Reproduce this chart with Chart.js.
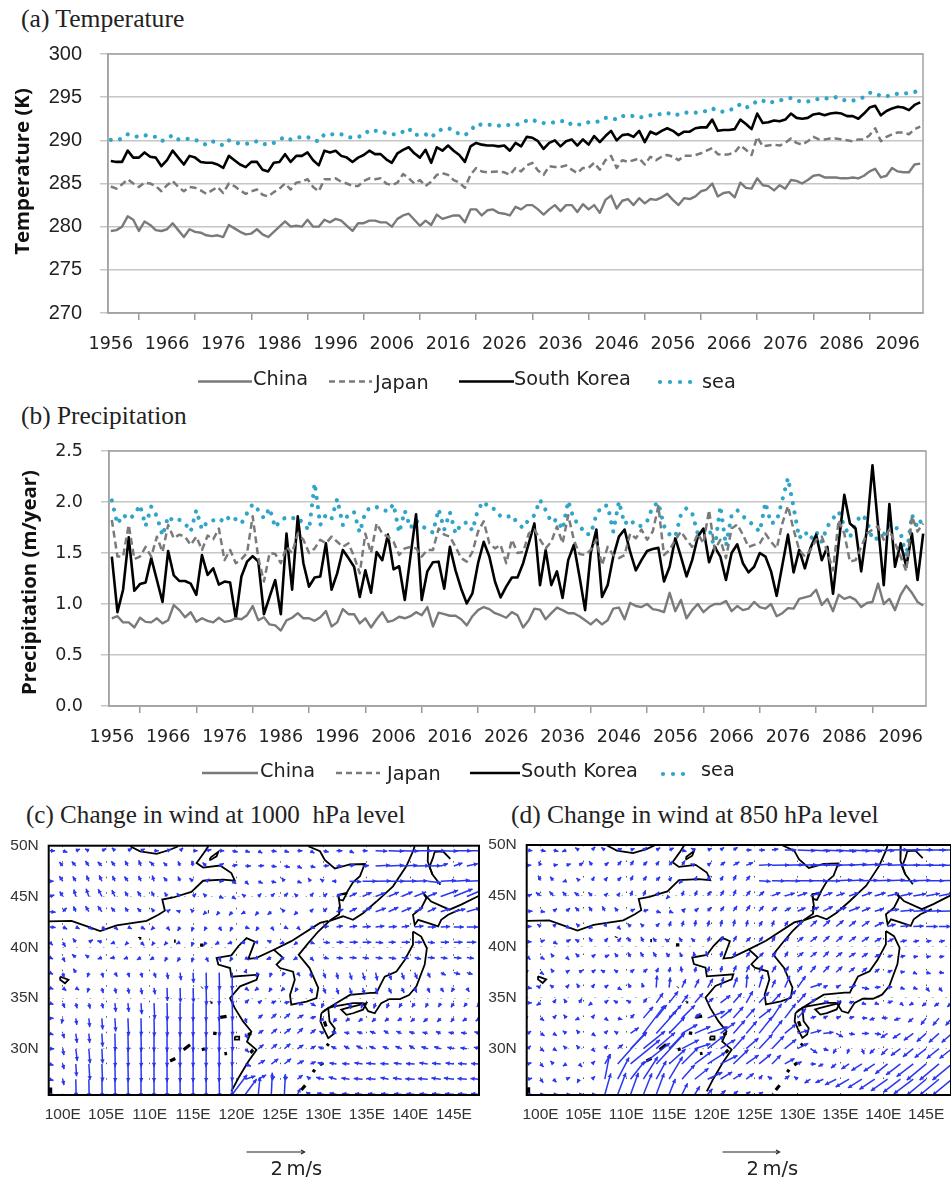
<!DOCTYPE html>
<html>
<head>
<meta charset="utf-8">
<title>Temperature, precipitation and wind change</title>
<script src="https://cdn.jsdelivr.net/npm/chart.js@4/dist/chart.umd.min.js"></script>
<style>
    body { margin: 0; background: #fff; }
    #page { position: relative; width: 951px; height: 1187px; overflow: hidden; }
    canvas { position: absolute; filter: blur(0.4px); }
    .panel-title { position: absolute; font-family: "Liberation Serif", serif; line-height: 28px; color: #222; white-space: pre; }
</style>
</head>
<body>
<div id="page">
    <div class="panel-title" style="left:21px;top:5px;font-size:25.6px">(a) Temperature</div>
    <div class="panel-title" style="left:21px;top:401px;font-size:25.4px">(b) Precipitation</div>
    <div class="panel-title" style="left:26px;top:801px;font-size:25.1px">(c) Change in wind at 1000  hPa level</div>
    <div class="panel-title" style="left:511px;top:801px;font-size:25.5px">(d) Change in wind at 850 hPa level</div>
    <canvas id="temp-chart" width="951" height="360" style="left:0;top:40px"></canvas>
    <canvas id="precip-chart" width="951" height="370" style="left:0;top:430px"></canvas>
    <canvas id="wind-c" width="484" height="352" style="left:0;top:835px"></canvas>
    <canvas id="wind-d" width="467" height="352" style="left:484px;top:835px"></canvas>
</div>
<script>
// year labels, 1956-2100
const years = [];
for (let y = 1956; y <= 2100; y++) years.push(String(y));

// (a) temperature, K
const tempChina = [
    279.5,279.6,280.0,281.2,280.8,279.5,280.6,280.2,279.6,279.5,
    279.7,280.4,279.6,278.8,279.7,279.4,279.3,279.0,278.9,279.0,
    278.8,280.2,279.8,279.4,279.1,279.2,279.7,279.1,278.8,279.4,
    280.0,280.6,280.0,280.1,280.0,280.8,280.0,280.0,280.8,280.5,
    280.9,280.7,280.1,279.5,280.4,280.4,280.7,280.7,280.5,280.5,
    280.0,280.9,281.3,281.5,280.8,280.1,280.7,280.2,281.4,280.9,
    281.1,281.3,281.3,280.5,282.0,282.0,281.3,281.9,282.0,281.6,
    281.5,281.3,282.3,282.0,282.5,282.5,282.0,281.4,282.0,282.5,
    281.8,282.5,282.5,281.7,282.6,282.0,282.5,281.6,283.1,283.6,
    282.1,283.0,283.2,282.5,283.3,282.7,283.2,283.1,283.4,283.8,
    283.1,282.5,283.3,283.2,283.5,284.1,284.3,285.0,283.5,283.9,
    284.0,283.4,285.1,284.5,284.4,285.6,284.8,284.7,284.2,284.8,
    284.4,285.4,285.3,285.0,285.4,285.9,286.0,285.7,285.7,285.7,
    285.6,285.6,285.7,285.6,285.9,286.4,286.7,285.7,285.9,286.8,
    286.4,286.3,286.3,287.2,287.3
];
const tempJapan = [
    284.65,284.4,284.9,285.5,285.0,284.6,285.1,285.0,284.7,284.1,
    284.8,285.3,284.6,284.1,284.6,284.5,284.2,283.8,284.2,284.6,
    283.9,285.0,284.7,284.2,283.8,284.1,284.3,283.7,283.5,284.0,
    284.4,285.0,284.3,285.1,285.2,285.5,284.6,284.1,285.5,285.5,
    285.6,285.2,285.0,284.7,284.7,285.3,285.6,285.5,285.6,285.0,
    284.8,285.1,286.1,285.6,285.0,285.4,284.7,285.2,286.0,286.2,
    286.0,285.4,285.1,284.5,286.0,286.8,286.4,286.3,286.35,286.4,
    286.3,286.0,286.8,286.4,287.1,287.4,286.5,286.0,287.0,286.9,
    286.9,287.1,286.6,286.2,286.8,286.8,287.4,286.6,287.7,288.2,
    286.8,287.7,287.5,287.7,287.9,287.2,288.1,287.7,288.1,288.3,
    288.1,287.7,288.2,288.2,288.3,288.5,288.8,289.1,288.4,288.3,
    288.4,288.6,289.4,288.9,288.3,290.4,289.3,289.4,289.5,289.4,
    289.7,290.2,289.7,289.5,289.9,290.4,290.1,290.1,290.2,290.2,
    290.1,290.0,289.9,290.1,290.1,290.6,291.4,289.9,290.4,290.7,
    290.9,290.9,290.7,291.3,291.6
];
const tempKorea = [
    287.6,287.5,287.5,288.8,288.0,288.0,288.6,288.1,288.0,287.0,
    287.7,288.8,288.0,287.2,288.2,288.0,287.5,287.4,287.4,287.2,
    286.8,288.2,287.7,287.2,286.9,287.5,287.5,286.6,286.4,287.4,
    287.5,288.4,287.5,288.2,288.2,288.6,287.7,287.1,288.8,288.6,
    288.8,288.2,288.0,287.5,288.0,288.3,288.8,288.4,288.4,287.8,
    287.4,288.5,288.9,289.2,288.5,288.0,288.9,287.4,289.2,288.8,
    289.4,288.8,288.3,287.5,289.3,289.7,289.5,289.4,289.4,289.3,
    289.4,288.8,289.7,289.3,290.4,290.3,289.9,289.0,289.7,290.0,
    289.3,289.9,290.1,289.4,290.1,289.5,290.5,289.8,290.5,291.1,
    290.0,290.6,290.7,290.4,291.1,289.8,291.0,290.7,291.1,291.4,
    291.1,290.6,291.0,291.0,291.4,291.5,291.5,292.4,291.1,291.2,
    291.2,291.3,292.4,291.9,291.3,293.1,292.0,292.1,292.3,292.2,
    292.4,293.1,292.6,292.5,292.6,293.0,293.1,292.9,293.1,293.2,
    293.1,292.8,292.8,292.5,293.1,293.8,294.0,292.9,293.4,293.7,
    293.9,293.8,293.5,294.1,294.4
];
const tempSea = [
    290.05,290.0,290.2,290.7,290.5,290.4,290.6,290.5,290.4,289.9,
    290.2,290.6,290.1,290.1,290.2,290.1,289.7,289.5,289.9,289.7,
    289.4,290.0,289.8,289.6,289.6,289.7,289.9,289.6,289.5,289.7,
    290.1,290.4,290.1,290.3,290.4,290.4,290.0,289.9,290.7,290.7,
    290.7,290.7,290.4,290.3,290.4,290.6,291.2,291.1,291.1,290.8,
    290.7,290.7,291.0,291.4,290.6,290.7,290.7,290.3,291.0,291.3,
    291.4,291.2,290.7,290.6,291.1,291.9,291.8,291.8,291.8,291.7,
    291.7,291.8,291.8,291.9,292.3,292.4,292.1,292.0,292.0,292.1,
    292.2,292.3,291.8,291.8,291.9,292.1,292.1,292.2,292.6,292.6,
    292.4,292.8,292.9,292.8,292.6,292.8,292.9,292.9,293.1,293.2,
    292.9,293.0,293.2,293.2,293.2,293.3,293.4,293.7,293.4,293.3,
    293.5,293.7,294.2,293.8,294.0,294.6,294.6,294.3,294.5,294.6,
    294.8,294.9,294.6,294.5,294.5,294.7,294.8,294.9,294.8,295.0,
    294.7,294.6,294.6,294.8,295.0,295.5,295.5,295.1,295.1,295.3,
    295.4,295.4,295.5,295.6,295.8
];

// (b) precipitation, m/year
const precipChina = [
    .86,.88,.82,.82,.77,.865,.825,.82,.86,.81,
    .84,.99,.94,.87,.92,.825,.86,.835,.82,.865,
    .825,.835,.86,.85,.89,.98,.84,.87,.80,.79,
    .74,.84,.865,.91,.86,.86,.835,.87,.93,.78,
    .82,.95,.90,.90,.81,.86,.77,.85,.92,.825,
    .84,.875,.86,.88,.92,.89,.97,.78,.915,.90,
    .885,.885,.85,.79,.88,.94,.97,.95,.91,.89,
    .865,.92,.89,.77,.84,.955,.945,.85,.91,.965,
    .94,.91,.91,.88,.84,.80,.85,.80,.84,.955,
    .965,.85,1.01,.98,.97,1.0,.95,.94,.92,1.11,
    .93,1.04,.86,.94,1.0,.92,.97,1.0,1.0,1.03,
    .93,.98,.94,.955,1.02,.97,.955,1.0,.88,.91,
    .96,.955,1.05,1.065,1.08,1.14,.99,1.05,.93,1.09,
    1.05,1.07,1.04,.97,1.01,1.02,1.2,1.0,1.05,.94,
    1.09,1.18,1.11,1.02,.985
];
const precipJapan = [
    1.825,1.465,1.465,1.775,1.44,1.465,1.56,1.465,1.66,1.51,
    1.775,1.645,1.68,1.66,1.58,1.66,1.53,1.67,1.635,1.74,
    1.43,1.53,1.40,1.44,1.50,1.86,1.45,1.22,1.50,1.49,
    1.40,1.56,1.50,1.69,1.63,1.50,1.545,1.63,1.595,1.66,
    1.61,1.56,1.595,1.465,1.30,1.69,1.50,1.79,1.69,1.66,
    1.61,1.48,1.545,1.56,1.545,1.465,1.53,1.53,1.74,1.68,
    1.66,1.56,1.45,1.415,1.51,1.71,1.81,1.595,1.545,1.58,
    1.40,1.63,1.50,1.51,1.69,1.73,1.63,1.545,1.61,1.76,
    1.595,1.87,1.63,1.49,1.48,1.53,1.63,1.38,1.56,1.48,
    1.45,1.48,1.69,1.645,1.73,1.63,1.71,1.96,1.48,1.53,
    1.63,1.71,1.63,1.56,1.69,1.595,1.92,1.53,1.63,1.45,
    1.74,1.78,1.68,1.56,1.58,1.595,1.69,1.61,1.545,1.79,
    1.96,1.73,1.53,1.465,1.53,1.63,1.66,1.51,1.33,1.825,
    1.69,1.415,1.43,1.56,1.69,1.73,1.76,1.63,1.73,1.595,
    1.465,1.32,1.86,1.71,1.79
];
const precipKorea = [
    1.465,.92,1.14,1.655,1.13,1.195,1.21,1.45,1.235,1.02,
    1.52,1.28,1.225,1.225,1.20,1.09,1.48,1.285,1.35,1.19,
    1.22,1.21,.86,1.27,1.415,1.47,1.415,.90,1.07,1.235,
    .90,1.69,1.14,1.86,1.40,1.17,1.26,1.27,1.595,1.14,
    1.30,1.53,1.45,1.365,1.07,1.33,1.11,1.51,1.43,1.68,
    1.34,1.37,1.04,1.465,1.88,1.04,1.32,1.41,1.415,1.15,
    1.56,1.33,1.15,1.005,1.105,1.40,1.61,1.465,1.22,1.065,
    1.17,1.26,1.26,1.40,1.595,1.79,1.185,1.53,1.185,1.32,
    1.06,1.43,1.58,1.27,.94,1.50,1.73,1.07,1.185,1.465,
    1.66,1.73,1.51,1.33,1.43,1.52,1.54,1.55,1.22,1.365,
    1.645,1.465,1.27,1.43,1.66,1.74,1.41,1.56,1.465,1.235,
    1.50,1.585,1.40,1.31,1.365,1.50,1.465,1.32,1.08,1.38,
    1.68,1.31,1.53,1.35,1.55,1.68,1.43,1.56,1.10,1.595,
    2.07,1.79,1.74,1.32,1.73,2.36,1.76,1.185,1.98,1.365,
    1.595,1.365,1.69,1.235,1.69
];
const precipSea = [
    2.015,1.785,1.875,1.83,1.875,1.97,1.765,1.955,1.86,1.67,
    1.86,1.81,1.825,1.79,1.71,1.92,1.73,1.81,1.82,1.84,
    1.80,1.865,1.83,1.79,1.89,1.98,1.92,1.84,1.94,1.75,
    1.825,1.85,1.84,1.85,1.785,1.725,2.185,1.775,1.875,1.835,
    2.03,1.775,1.885,1.90,1.70,1.905,1.95,1.95,1.93,1.905,
    1.98,1.70,1.915,1.745,1.82,1.765,1.73,1.70,1.93,1.73,
    1.90,1.69,1.785,1.80,1.72,1.93,2.005,1.94,1.93,1.86,
    1.85,1.87,1.79,1.745,1.83,1.87,2.02,1.92,1.80,1.83,
    1.73,2.01,1.83,1.775,1.685,1.685,1.875,1.96,1.965,1.71,
    2.005,1.785,1.83,1.765,1.765,1.81,1.955,1.995,1.765,1.68,
    1.66,1.875,1.94,1.89,1.69,1.72,1.745,1.54,1.96,1.57,
    1.87,1.92,1.86,1.82,1.76,1.71,1.995,1.79,1.81,2.02,
    2.235,1.95,1.645,1.71,1.635,1.71,1.61,1.76,1.84,1.905,
    1.765,1.655,1.79,1.875,1.825,1.63,1.645,1.68,1.775,1.765,
    1.695,1.465,1.875,1.75,1.86
];

// wind grid, degrees
const windLons = [98.5,100,101.5,103,104.5,106,107.5,109,110.5,112,113.5,115,116.5,118,119.5,121,122.5,124,125.5,127,128.5,130,131.5,133,134.5,136,137.5,139,140.5,142,143.5,145,146.5,148];
const windLats = [49.5,48,46.5,45,43.5,42,40.5,39,37.5,36,34.5,33,31.5,30,28.5,27,25.5];

// (c) 1000 hPa change, cm/s, one row per latitude
const windCU = [
    [8,6,5,-4,6,-3,5,4,6,5,3,5,8,7,9,6,5,8,6,7,5,8,10,6,7,30,42,48,50,50,48,50,52,50],
    [0,-5,-7,-6,-7,-6,-5,-4,-6,-5,-3,-2,-5,7,8,9,10,8,9,6,7,9,10,8,12,40,42,44,40,35,15,20,28,30],
    [3,-6,-5,-4,-5,-4,-6,-4,-3,-5,-3,-5,3,5,5,4,6,7,-3,5,-2,-3,-5,30,38,42,44,40,34,36,42,45,48,50],
    [6,-5,-4,-6,-8,-6,-5,-6,-4,-3,-4,3,-3,5,4,-3,3,4,5,-3,4,5,8,16,22,24,26,28,30,22,50,55,52,50],
    [10,6,-4,-6,-8,-6,-4,-5,-3,3,-3,-2,-3,-3,-4,-5,-4,-5,-3,-4,3,5,14,16,22,26,24,24,20,20,24,30,36,40],
    [10,6,4,4,5,3,4,5,-3,3,-3,-2,-2,3,-3,5,-3,3,4,3,6,8,12,16,18,20,18,16,20,18,22,24,28,30],
    [3,4,-4,5,-6,-5,-3,4,-2,-3,-4,-2,-3,-5,-6,-6,-5,-5,-6,-4,5,12,14,18,20,16,14,18,16,14,18,20,22,24],
    [2,3,-5,-4,-5,-6,-5,-5,-5,-3,-4,-2,3,2,-3,4,-6,-7,-6,-5,4,8,12,14,12,14,16,14,12,14,13,16,14,16],
    [2,2,-3,-2,2,3,2,2,3,2,2,1,1,1,0,1,-3,-2,-2,3,2,4,3,5,5,4,6,5,5,4,8,12,10,10],
    [3,4,3,-2,2,2,2,2,2,1,1,1,1,0,1,4,-4,-3,-4,-3,3,4,4,5,4,4,5,4,3,3,4,-3,3,3],
    [3,3,2,2,2,2,2,2,2,1,0,0,0,0,1,5,4,7,8,10,9,-3,-3,2,-2,-3,-3,-4,-4,-3,-3,-4,-4,-4],
    [3,-2,2,2,2,2,2,1,1,1,0,0,0,1,1,2,7,10,12,12,9,-4,-5,-5,-6,-5,-5,-5,-6,-7,-5,-4,-6,-6],
    [3,2,3,2,2,1,1,1,0,0,0,0,0,0,1,4,9,12,14,12,10,-5,-7,-8,-9,-10,-8,-9,-9,-8,-7,-8,-10,-9],
    [5,2,4,3,2,1,1,1,0,0,0,0,0,0,0,5,10,12,13,12,9,-8,-9,-10,-12,-12,-11,-12,-10,-12,-13,-12,-12,-11],
    [3,2,2,3,2,1,1,1,0,0,0,0,0,0,0,10,14,16,15,13,9,-10,-14,-15,-18,-20,-18,-17,-20,-19,-20,-18,-20,-20],
    [3,2,1,1,1,1,1,0,0,0,0,0,0,1,0,25,18,4,3,10,-5,-15,-17,-18,-20,-20,-18,-20,-22,-24,-22,-24,-22,-22],
    [2,2,1,1,1,1,1,0,0,0,0,0,0,2,45,33,5,3,3,6,-6,-12,-14,-15,-16,-16,-16,-16,-18,-18,-20,-20,-20,-20]
];
const windCV = [
    [0,-2,2,2,3,3,3,2,0,2,3,0,2,0,-2,-2,-3,-1,-2,0,-3,-2,0,-3,0,-1,-1,-1,0,0,-1,0,0,0],
    [0,6,8,9,7,8,9,10,7,5,7,8,5,4,2,0,1,-1,-2,-3,-2,1,0,2,1,2,2,2,1,1,5,7,6,5],
    [0,9,8,10,11,9,8,9,10,6,7,4,2,0,-3,-4,-3,-2,4,-2,3,2,0,-1,0,1,0,1,1,-4,2,3,2,2],
    [2,8,14,17,16,13,8,9,8,5,4,3,3,-2,-3,2,3,4,5,3,5,4,4,8,10,9,11,12,12,9,18,22,22,20],
    [-1,6,9,10,11,7,6,5,4,2,1,2,-3,-4,-5,-3,-5,-4,3,-4,3,5,5,8,10,9,11,10,10,9,8,7,10,10],
    [-1,-3,-2,-3,-4,-3,-2,-3,-3,-4,-5,-6,-4,-5,-6,-2,-5,-4,-2,-3,-2,1,2,2,1,2,1,2,2,0,1,0,0,0],
    [-3,-7,5,3,2,-2,-3,-4,-3,-3,-2,-5,-4,-3,-2,-1,0,2,-2,-3,-2,-1,0,0,0,-1,0,0,0,-1,0,0,0,1],
    [-1,-6,4,3,-2,-1,-2,-3,-3,-5,-6,-7,-6,-5,-5,-3,-2,-3,-3,-3,-4,-2,-2,-1,-2,-2,-3,-2,-3,-1,-2,-2,-2,-1],
    [-1,-8,5,-6,-7,-5,-6,-7,-8,-12,-16,-25,-50,-50,-50,3,-5,-6,-3,-4,-8,-10,-12,-15,-16,-17,-16,-14,-12,-8,-4,-3,-3,-2],
    [-1,-3,-2,-6,-8,-9,-10,-12,-12,-35,-40,-40,-50,-50,-50,-3,-3,-5,-4,-5,-9,-10,-12,-14,-12,-12,-10,-8,-7,-7,-6,-5,-5,-4],
    [-1,-7,-8,-9,-8,-20,-20,-28,-45,-50,-52,-52,-52,-52,-50,5,3,3,2,-3,-5,-7,-8,-10,-8,-9,-8,-7,-6,-6,-5,-6,-5,-5],
    [0,-8,-12,-20,-28,-35,-50,-50,-52,-52,-52,-52,-52,-52,-50,-6,6,9,10,7,3,-4,-6,-4,-5,-5,-4,-3,-5,-6,-5,-5,-4,-4],
    [-1,-6,-22,-22,-35,-50,-52,-52,-52,-52,-52,-52,-52,-52,-50,-8,6,10,11,12,8,3,3,2,3,4,5,4,3,2,3,2,2,3],
    [0,-12,-32,-40,-40,-52,-52,-52,-52,-52,-52,-52,-52,-52,-50,-5,8,10,11,8,5,3,4,5,6,5,4,5,6,4,4,3,2,3],
    [-1,-8,-32,-45,-50,-52,-52,-52,-52,-52,-52,-52,-52,-52,-50,-4,8,12,12,7,4,2,2,1,3,2,1,2,1,3,2,2,1,1],
    [-1,-10,-50,-52,-52,-52,-52,-52,-52,-52,-52,-52,-52,-52,-50,8,10,3,2,8,4,4,5,3,2,2,4,3,1,2,3,3,2,2],
    [0,-5,-45,-46,-48,-48,-46,-46,-45,-45,-45,-45,-44,-42,60,45,50,65,60,12,3,3,3,2,2,2,2,2,2,2,2,2,2,2]
];

// (d) 850 hPa change, cm/s
const windDU = [
    [6,8,7,-5,-5,4,-4,5,5,4,5,7,6,-4,5,4,6,8,10,12,30,52,58,60,60,62,60,58,60,60,58,60,60,60],
    [2,-2,5,6,6,-4,5,6,5,6,4,6,5,-5,4,8,12,14,35,50,55,58,58,56,55,52,50,50,55,58,60,60,60,60],
    [0,-4,-5,-3,-2,3,3,5,4,5,6,3,-3,3,4,4,5,7,30,35,42,45,48,48,45,40,45,48,50,50,50,52,50,52],
    [5,-8,-7,-6,-8,-5,3,2,3,4,4,-3,3,4,5,6,5,8,10,20,25,24,26,22,20,24,26,28,30,32,35,38,40,42],
    [6,5,4,5,-6,-5,-4,-4,6,7,6,5,4,5,5,6,7,8,9,10,12,18,20,24,26,28,20,22,30,36,40,42,46,46],
    [3,-3,3,4,-3,-3,2,3,-3,-3,4,3,3,2,3,3,3,3,6,4,6,10,15,16,18,16,18,20,18,22,26,30,30,32],
    [3,5,5,6,-5,-4,4,5,-5,-4,-5,-6,-4,-5,4,5,6,8,7,6,8,12,15,14,15,16,16,14,12,12,10,8,10,12],
    [2,5,-3,3,-5,4,6,-4,-4,-5,-5,-4,-3,-2,-3,3,4,7,8,8,6,12,14,12,13,14,12,10,8,7,6,6,8,8],
    [-3,3,-3,3,5,4,-5,-4,5,6,3,2,-2,2,3,3,6,7,8,9,8,10,12,14,14,12,10,8,7,5,4,6,7,8],
    [4,-5,-4,3,-3,3,4,5,-3,-2,2,3,9,10,13,8,10,3,10,8,14,22,30,6,5,15,15,10,6,5,5,5,5,4],
    [4,-5,3,-3,4,-4,4,-5,-4,6,18,25,15,22,12,26,22,18,28,24,32,22,10,8,8,8,5,5,8,3,-5,-6,-8,-8],
    [-4,4,3,-3,-4,3,4,6,6,27,30,36,38,12,50,32,28,23,34,28,32,22,10,6,6,8,8,-8,-10,-12,-10,-12,-15,-15],
    [3,5,3,-4,-3,4,3,-3,20,68,64,48,45,45,60,43,34,30,40,30,32,28,28,25,15,10,14,12,-15,-18,-25,-25,-28,-28],
    [3,4,3,-3,-3,3,3,10,50,68,58,48,50,45,48,43,34,35,40,35,32,28,15,8,-5,-3,4,-10,-15,-25,-28,-32,-35,-35],
    [3,3,-3,-3,3,3,15,93,95,85,93,50,50,50,54,50,45,35,34,24,25,5,8,-8,-10,-18,-28,-30,-35,-42,-50,-60,-60,-60],
    [5,3,3,4,-2,3,15,35,43,45,30,42,38,40,42,32,22,18,5,-6,8,-4,-12,-18,-30,-38,-40,-45,-50,-52,-60,-60,-60,-60],
    [4,4,5,5,4,4,18,25,24,26,24,18,15,12,10,10,8,6,5,2,-10,-24,-30,-34,-36,-38,-38,-40,-42,-42,-44,-44,-46,-46]
];
const windDV = [
    [-1,-2,-2,-2,3,4,3,2,2,3,3,3,-2,2,2,3,4,0,0,2,0,-2,-3,-3,-4,-3,-4,-2,1,1,1,0,0,0],
    [0,4,1,2,4,6,4,7,8,6,6,7,8,2,3,6,7,6,2,1,2,2,2,1,2,3,3,4,2,1,1,0,1,0],
    [0,8,6,-1,2,5,4,5,8,7,6,4,-3,6,8,7,10,9,-2,-1,-1,0,0,-1,2,2,1,1,2,0,1,0,1,0],
    [2,6,8,7,6,5,3,3,8,10,6,-3,8,9,8,10,12,10,9,8,7,8,8,8,7,8,9,8,7,7,6,7,8,7],
    [0,-1,3,4,6,7,8,5,3,2,-2,-2,3,4,6,8,10,12,10,8,7,8,10,12,10,11,8,6,5,3,2,1,1,1],
    [0,2,3,-2,3,-2,4,-3,3,3,4,8,10,12,11,13,14,12,10,11,10,12,14,15,15,13,13,10,5,2,1,0,0,0],
    [0,2,-3,3,3,6,5,6,7,8,6,4,6,5,9,10,11,8,9,10,9,10,12,13,13,12,11,8,6,3,2,2,2,2],
    [-2,-3,4,-3,5,3,3,5,7,8,8,6,6,8,10,10,9,10,8,9,10,10,11,12,10,9,8,5,3,2,1,1,1,1],
    [3,-2,4,2,3,3,3,3,4,5,6,8,10,9,10,12,14,15,16,14,12,14,15,15,13,10,9,6,3,1,-2,-2,-1,-1],
    [-1,2,3,3,5,4,3,-3,5,6,32,25,20,20,22,26,26,35,35,18,32,32,10,3,3,5,-3,1,1,-2,-2,-6,-6,-6],
    [0,-3,4,5,6,-3,3,3,3,8,26,32,20,26,10,20,26,32,30,26,36,26,8,3,3,2,-2,-2,3,-3,-3,-5,-6,-7],
    [2,-3,3,4,-2,4,-3,-2,6,32,38,38,38,10,20,26,32,26,26,42,42,26,3,3,2,2,0,-3,0,-4,-8,-15,-18,-18],
    [2,-3,-2,3,4,-3,3,2,14,90,72,50,26,20,20,32,38,35,50,38,26,8,8,3,-8,-2,0,-2,-10,-12,-18,-22,-25,-25],
    [3,-3,-2,3,4,-3,4,8,50,55,50,50,26,14,38,26,38,30,43,37,26,14,-10,-3,-8,-8,-10,-10,-15,-18,-22,-25,-28,-28],
    [1,-3,3,-2,-3,3,25,105,78,67,100,45,50,37,35,25,43,25,28,24,14,3,0,-4,-8,-12,-18,-20,-28,-32,-38,-50,-50,-50],
    [1,-4,-3,2,-4,3,78,67,55,70,55,70,43,32,20,20,14,14,6,4,6,3,-8,-8,-15,-22,-25,-30,-35,-40,-45,-50,-50,-50],
    [0,0,0,0,0,0,64,66,66,65,65,45,30,20,12,8,6,4,3,-1,-6,-14,-18,-22,-24,-26,-28,-30,-30,-32,-32,-34,-34,-36]
];

// map outlines as [lon, lat]
const coastLines = [
    [[98.4,42.55],[101,42.6],[102.8,42.05],[104.3,41.6],[106.2,42.15],[109.65,42.6],[111,43.2],[111.75,43.6],[111.45,44.7],[112.7,44.9],[114.8,45.45],[116.15,46.55],[118.45,46.65],[119.8,46.55],[119.4,47.3],[118.1,48.05],[116.15,47.85],[115.4,48.3],[116.25,49.3],[116.75,49.95]],
    [[107.75,49.95],[108.9,49.45],[110.8,49.2],[112.35,49.6],[113.3,49.95]],
    [[116.95,48.8],[117.9,49.4],[117.7,48.95],[117,48.6],[116.95,48.8]],
    [[128.25,49.95],[129.6,49.45],[130.15,48.6],[131.3,47.75],[133.05,48.15],[134.75,48.2],[134.2,47],[133.4,46.4],[132.65,45.35],[131.7,45.15],[131.9,44],[131.8,43.25],[130.7,42.6]],
    [[131.7,45.15],[132.65,45.25],[132.25,44.6],[131.8,44.7],[131.7,45.15]],
    [[130.7,42.6],[132.25,43.05],[133.4,42.7],[134.55,43.35],[136.1,44.5],[138,46],[139.55,48],[140.3,49.45],[140.5,49.95]],
    [[142.05,49.95],[142,48.45],[142.55,47.15],[143.45,46.15]],
    [[142.55,47.15],[142.2,47.9],[142.6,48.8],[142.8,49.4],[143.75,49.45],[144.6,48.7]],
    [[141.45,45.35],[142.4,44.5],[144.5,43.7],[145.85,44.2],[147.85,45.05]],
    [[145.65,43.7],[144.35,43.2],[143.55,42.7],[143.2,42.05],[142,42.4],[140.9,42.7],[140.5,42.2],[140.3,43.2],[141.25,43.85],[141.85,44.85],[141.45,45.35]],
    [[140.3,41.55],[141.25,41.05],[141.9,39.9],[141.65,38.3],[140.7,36.15],[139.85,35.3],[138.8,34.9],[137.6,34.9],[136.65,34.5],[135.9,33.5],[135.15,33.7],[134.55,34.5],[133.4,34.5],[131.1,34.15],[130.55,34],[131.5,34.5],[133.05,35.3],[135.5,35.5],[136.1,35.5],[136.65,36.45],[137.05,37.1],[138.4,37.6],[139.35,38.75],[140.3,40.25],[140.3,41.55]],
    [[132.65,34],[134.95,34.5],[134.55,33.85],[133.4,33.5],[132.65,33.35],[132.05,33.85],[132.65,34]],
    [[129.75,33.5],[130.55,34],[130.7,32.7],[131.3,32],[131.1,31.4],[130.55,31.05],[130,32],[129.65,32.7],[129.75,33.5]],
    [[130.7,42.6],[129.4,41.55],[128.25,40.4],[127.15,39.25],[128.4,37.95],[129.4,36],[129.2,35],[128.05,34.65],[126.3,34.35],[126.15,35.3],[126.7,36.8],[126.5,37.6],[125,37.95],[124.6,38.3],[125.35,38.95],[124.3,39.75],[122.3,38.95],[121.35,38.85],[122.1,40.55],[121.15,40.9],[120.2,40.1],[119.4,39.2],[117.7,38.95],[117.9,38.3],[119.25,37.95],[119.4,37.1],[122.5,37.3],[122.3,36.8],[120.4,36.15],[119.25,35],[119.8,34],[120.75,32.7],[121.7,31.7],[121.2,30.7],[122.3,29.9],[121.35,28.75],[120.2,27.1],[119.4,25.8]],
    [[124.3,39.75],[126.3,40.6],[129.6,42.4],[130.55,42.6]],
    [[99.7,37.1],[100.65,36.8],[100.25,36.45],[99.7,36.8],[99.7,37.1]],
    [[119.8,31.2],[120.3,31.2],[120.3,30.9],[119.8,30.9],[119.8,31.2]]
];
const lakeBlobs = [
    [[112.35,28.8],[112.95,29.05]],
    [[113.9,29.9],[114.65,30.4]],
    [[116,29.9],[116.35,30]],
    [[118.6,29.5],[118.9,29.55]],
    [[118.1,33.1],[118.85,33.2]],
    [[117.3,31.55],[117.7,31.5]],
    [[121.3,31.4],[121.7,31.5]],
    [[121.6,29.6],[121.9,29.9]],
    [[127.45,25.95],[127.9,26.4]],
    [[128.8,27.7],[129,27.95]],
    [[129.6,28.4],[129.95,28.6]],
    [[130.4,30.3],[130.6,30.5]],
    [[130.1,32.7],[130.3,32.2]],
    [[116,36],[116.05,36.05]],
    [[117,34.6],[117.05,34.65]],
    [[116.7,43.5],[116.8,43.5]],
    [[108.8,40.9],[108.85,41]],
    [[112.8,40.6],[113,40.6]],
    [[115.8,40.2],[116.2,40.2]],
    [[98.6,25.5],[98.6,26.2]]
];

const legendNames = ['China', 'Japan', 'South Korea', 'sea'];

const GREY_LINE = '#7a7a7a';
const SEA_BLUE = '#2fa6c8';
const ARROW_BLUE = '#2a36f0';

function seriesStyle(label, data, color, width, dash, cap) {
    return {
        label: label,
        data: data,
        borderColor: color,
        backgroundColor: color,
        borderWidth: width,
        borderDash: dash,
        borderCapStyle: cap,
        borderJoinStyle: 'round',
        pointRadius: 0,
        tension: 0,
        fill: false
    };
}

// frame round the plot, top and right sides are not part of the axes
function framePlugin(color, width) {
    return {
        id: 'frame',
        afterDraw: function(chart) {
            const a = chart.chartArea;
            const ctx = chart.ctx;
            ctx.save();
            ctx.strokeStyle = color;
            ctx.lineWidth = width;
            ctx.strokeRect(a.left, a.top, a.right - a.left, a.bottom - a.top);
            ctx.restore();
        }
    };
}

// y title is not centred on the axis in the figure, so it goes here
function axisTitlePlugin(text, x, y) {
    return {
        id: 'axisTitle',
        afterDraw: function(chart) {
            const ctx = chart.ctx;
            ctx.save();
            ctx.translate(x, y);
            ctx.rotate(-Math.PI / 2);
            ctx.fillStyle = '#111';
            ctx.font = 'bold 20.4px "Open Sans"';
            ctx.textAlign = 'center';
            ctx.textBaseline = 'middle';
            ctx.fillText(text, 0, 0);
            ctx.restore();
        }
    };
}

// the legend in the picture sits unevenly, so it is laid out by hand
function legendPlugin(items) {
    return {
        id: 'handLegend',
        afterDraw: function(chart) {
            const ctx = chart.ctx;
            ctx.save();
            items.forEach(function(it) {
                ctx.beginPath();
                ctx.strokeStyle = it.color;
                ctx.lineWidth = it.width;
                ctx.lineCap = it.cap || 'butt';
                ctx.setLineDash(it.dash || []);
                ctx.moveTo(it.x0, it.y);
                ctx.lineTo(it.x1, it.y);
                ctx.stroke();
                ctx.setLineDash([]);
                ctx.fillStyle = '#222';
                ctx.font = '19.3px "DejaVu Sans"';
                ctx.textAlign = 'left';
                ctx.textBaseline = 'middle';
                ctx.fillText(it.label, it.tx, it.ty);
            });
            ctx.restore();
        }
    };
}

// fixed axis boxes so the plot lands exactly where the figure has it
function fixWidth(w) {
    return function(s) { s.width = w; s.paddingTop = 0; s.paddingBottom = 0; };
}
function fixHeight(h) {
    return function(s) { s.height = h; s.paddingLeft = 0; s.paddingRight = 0; };
}

function lineChart(id, datasets, yOpts, pad, axisW, axisH, titlePlugin, legendItems) {
    return new Chart(document.getElementById(id), {
        type: 'line',
        data: { labels: years, datasets: datasets },
        plugins: [framePlugin('#a2a2a2', 1.5), titlePlugin, legendPlugin(legendItems)],
        options: {
            responsive: false,
            animation: false,
            layout: { padding: pad },
            plugins: { legend: { display: false }, title: { display: false }, tooltip: { enabled: false } },
            scales: {
                x: {
                    type: 'category',
                    offset: true,
                    afterFit: fixHeight(axisH),
                    grid: { offset: true, drawOnChartArea: false, color: '#9a9a9a', lineWidth: 1.5, tickLength: 7 },
                    border: { color: '#a2a2a2', width: 1.5 },
                    ticks: {
                        autoSkip: false,
                        maxRotation: 0,
                        padding: 14,
                        color: '#222',
                        font: { family: 'DejaVu Sans', size: 17.5 },
                        callback: function(value, index) {
                            return index % 10 === 0 ? this.getLabelForValue(value) : null;
                        }
                    }
                },
                y: Object.assign({
                    afterFit: fixWidth(axisW),
                    grid: { color: '#c6c6c6', lineWidth: 1.5, tickLength: 8 },
                    border: { color: '#a2a2a2', width: 1.5 }
                }, yOpts)
            }
        }
    });
}

lineChart('temp-chart', [
    seriesStyle(legendNames[0], tempChina, GREY_LINE, 2.4, [], 'butt'),
    seriesStyle(legendNames[1], tempJapan, GREY_LINE, 2.5, [7, 4], 'butt'),
    seriesStyle(legendNames[2], tempKorea, '#000', 2.6, [], 'butt'),
    seriesStyle(legendNames[3], tempSea, SEA_BLUE, 4.2, [0.01, 9.3], 'round')
], {
    min: 270, max: 300,
    ticks: { stepSize: 5, padding: 18, color: '#222', font: { family: 'Liberation Sans', size: 20 } }
}, { top: 14, right: 28 }, 108, 87, axisTitlePlugin('Temperature (K)', 23, 131.5), [
    { label: legendNames[0], x0: 198, x1: 252, y: 341.5, color: GREY_LINE, width: 2.4, tx: 253, ty: 340 },
    { label: legendNames[1], x0: 329, x1: 372, y: 341.5, color: GREY_LINE, width: 2.5, dash: [6, 4], tx: 375, ty: 344 },
    { label: legendNames[2], x0: 459, x1: 514, y: 341.5, color: '#000', width: 2.6, tx: 514, ty: 340 },
    { label: legendNames[3], x0: 660, x1: 692, y: 342, color: SEA_BLUE, width: 4.2, dash: [0.01, 10], cap: 'round', tx: 702, ty: 343 }
]);

lineChart('precip-chart', [
    seriesStyle(legendNames[0], precipChina, GREY_LINE, 2.4, [], 'butt'),
    seriesStyle(legendNames[1], precipJapan, GREY_LINE, 2.5, [7, 4], 'butt'),
    seriesStyle(legendNames[2], precipKorea, '#000', 2.6, [], 'butt'),
    seriesStyle(legendNames[3], precipSea, SEA_BLUE, 4.2, [0.01, 9.3], 'round')
], {
    min: 0, max: 2.5,
    ticks: {
        stepSize: 0.5, padding: 18, color: '#222', font: { family: 'DejaVu Sans', size: 17.5 },
        callback: function(v) { return v.toFixed(1); }
    }
}, { top: 21, right: 25 }, 109, 94, axisTitlePlugin('Precipitation (m/year)', 30, 152.5), [
    { label: legendNames[0], x0: 202, x1: 258, y: 343, color: GREY_LINE, width: 2.4, tx: 260, ty: 342 },
    { label: legendNames[1], x0: 336, x1: 380, y: 343, color: GREY_LINE, width: 2.5, dash: [6, 4], tx: 387, ty: 345 },
    { label: legendNames[2], x0: 470, x1: 520, y: 343, color: '#000', width: 2.6, tx: 521, ty: 342 },
    { label: legendNames[3], x0: 663, x1: 693, y: 344, color: SEA_BLUE, width: 4.2, dash: [0.01, 10], cap: 'round', tx: 701, ty: 341 }
]);

// blue wind vectors: tail on the grid point, head sticks out past the value
function arrowPlugin(pxPerMs, refX, refY, refText) {
    const headExtra = 3;
    return {
        id: 'windArrows',
        afterDatasetsDraw: function(chart) {
            const ctx = chart.ctx;
            const a = chart.chartArea;
            const points = chart.data.datasets[0].data;
            ctx.save();
            ctx.beginPath();
            ctx.rect(a.left, a.top, a.right - a.left, a.bottom - a.top);
            ctx.clip();
            ctx.strokeStyle = ARROW_BLUE;
            ctx.fillStyle = ARROW_BLUE;
            ctx.lineWidth = 1.5;
            points.forEach(function(p) {
                const cx = chart.scales.x.getPixelForValue(p.x);
                const cy = chart.scales.y.getPixelForValue(p.y);
                const dx = p.u / 100 * pxPerMs;
                const dy = -p.v / 100 * pxPerMs;
                const len = Math.hypot(dx, dy) || 1;
                const k = (len + headExtra) / len;
                drawArrow(ctx, cx, cy, cx + dx * k, cy + dy * k, 4.6, true);
            });
            ctx.restore();
        },
        afterDraw: function(chart) {
            const ctx = chart.ctx;
            const a = chart.chartArea;
            ctx.save();
            ctx.strokeStyle = '#000';
            ctx.lineWidth = 2;
            ctx.strokeRect(a.left, a.top, a.right - a.left, a.bottom - a.top);
            ctx.lineWidth = 1.2;
            ctx.strokeStyle = '#222';
            drawArrow(ctx, refX, refY, refX + 2 * pxPerMs, refY, 4, false);
            ctx.fillStyle = '#222';
            ctx.font = '19.5px "DejaVu Sans"';
            ctx.textBaseline = 'alphabetic';
            ctx.fillText(refText[0], refX + 24, refY + 23);
            ctx.fillText(refText[1], refX + 40, refY + 23);
            ctx.restore();
        }
    };
}

function drawArrow(ctx, x0, y0, x1, y1, head, filled) {
    const ang = Math.atan2(y1 - y0, x1 - x0);
    ctx.beginPath();
    ctx.moveTo(x0, y0);
    ctx.lineTo(x1, y1);
    ctx.stroke();
    ctx.beginPath();
    ctx.moveTo(x1 - head * Math.cos(ang - 0.5), y1 - head * Math.sin(ang - 0.5));
    ctx.lineTo(x1, y1);
    ctx.lineTo(x1 - head * Math.cos(ang + 0.5), y1 - head * Math.sin(ang + 0.5));
    if (filled) {
        ctx.closePath();
        ctx.fill();
    } else {
        ctx.stroke();
    }
}

function windChart(id, windU, windV, yW, pad, pxPerMs, refX) {
    const points = [];
    windLats.forEach(function(lat, r) {
        windLons.forEach(function(lon, c) {
            points.push({ x: lon, y: lat, u: windU[r][c], v: windV[r][c] });
        });
    });
    const datasets = [{ data: points, pointRadius: 0, showLine: false }];
    coastLines.forEach(function(line) {
        datasets.push({
            data: line.map(function(p) { return { x: p[0], y: p[1] }; }),
            showLine: true, pointRadius: 0, borderColor: '#000', borderWidth: 1.8, tension: 0
        });
    });
    lakeBlobs.forEach(function(line) {
        datasets.push({
            data: line.map(function(p) { return { x: p[0], y: p[1] }; }),
            showLine: true, pointRadius: 0, borderColor: '#000', borderWidth: 3.2, tension: 0
        });
    });
    const labelFont = { family: 'Liberation Sans', size: 15.5 };
    return new Chart(document.getElementById(id), {
        type: 'scatter',
        data: { datasets: datasets },
        plugins: [arrowPlugin(pxPerMs, refX, 317, ['2', 'm/s'])],
        options: {
            responsive: false,
            animation: false,
            layout: { padding: pad },
            plugins: { legend: { display: false }, tooltip: { enabled: false } },
            scales: {
                x: {
                    type: 'linear', min: 98.38, max: 147.9,
                    afterFit: fixHeight(92),
                    grid: { color: '#555', lineWidth: 1, drawTicks: false },
                    border: { display: false, dash: [1.5, 14] },
                    ticks: {
                        stepSize: 5, includeBounds: false, maxRotation: 0, autoSkip: false, padding: 10, color: '#333', font: labelFont,
                        callback: function(v) { return v + 'E'; }
                    }
                },
                y: {
                    type: 'linear', min: 25.45, max: 50,
                    afterFit: fixWidth(yW),
                    grid: { color: '#aaa', lineWidth: 1, drawTicks: false },
                    border: { display: false, dash: [1.5, 12] },
                    ticks: {
                        stepSize: 5, includeBounds: false, padding: 10, color: '#333', font: labelFont,
                        callback: function(v) { return v + 'N'; }
                    }
                }
            }
        }
    });
}

windChart('wind-c', windCU, windCV, 48.7, { top: 10.7, right: 5 }, 29, 246.5);
windChart('wind-d', windDU, windDV, 42.7, { top: 10, right: 0 }, 28.5, 238.5);
</script>
</body>
</html>
